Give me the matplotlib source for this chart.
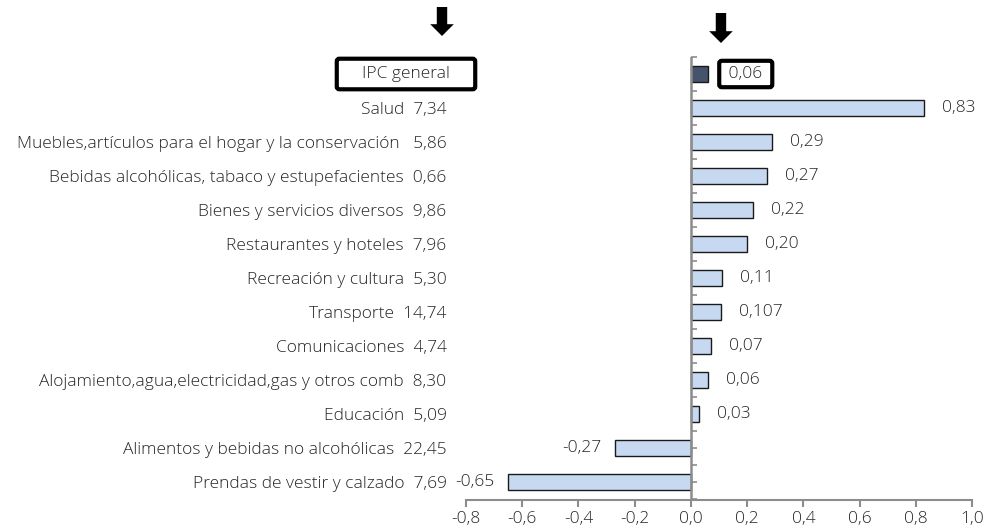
import matplotlib
matplotlib.use("Agg")
import matplotlib.pyplot as plt
import numpy as np

categories = [
    "IPC general",
    "Salud  7,34",
    "Muebles,artículos para el hogar y la conservación   5,86",
    "Bebidas alcohólicas, tabaco y estupefacientes  0,66",
    "Bienes y servicios diversos  9,86",
    "Restaurantes y hoteles  7,96",
    "Recreación y cultura  5,30",
    "Transporte  14,74",
    "Comunicaciones  4,74",
    "Alojamiento,agua,electricidad,gas y otros comb  8,30",
    "Educación  5,09",
    "Alimentos y bebidas no alcohólicas  22,45",
    "Prendas de vestir y calzado  7,69",
]
values = [0.06, 0.83, 0.29, 0.27, 0.22, 0.20, 0.11, 0.107, 0.07, 0.06, 0.03, -0.27, -0.65]
value_labels = ["0,06", "0,83", "0,29", "0,27", "0,22", "0,20", "0,11", "0,107",
                "0,07", "0,06", "0,03", "-0,27", "-0,65"]
xticks = [-0.8, -0.6, -0.4, -0.2, 0.0, 0.2, 0.4, 0.6, 0.8, 1.0]
xtick_labels = ["-0,8", "-0,6", "-0,4", "-0,2", "0,0", "0,2", "0,4", "0,6", "0,8", "1,0"]

plt.rcParams['font.family'] = ['Open Sans', 'DejaVu Sans']
plt.rcParams['font.weight'] = 'light'
FS = 12.5
txt_color = "#262626"
axis_color = "#8c8c8c"

fig = plt.figure(figsize=(9.92, 5.28), dpi=100)
ax = fig.add_axes([466/992, 1-500/528, (972-466)/992, (500-57)/528])

n = len(values)
ypos = np.arange(n)[::-1]  # top item highest
colors = ["#44546a"] + ["#c6d9f0"] * (n - 1)
ax.barh(ypos, values, height=0.47, color=colors, edgecolor="#1a1a1a", linewidth=1.0, zorder=3)

ax.set_xlim(-0.8, 1.0)
ax.set_ylim(-0.53, n - 0.5)

# x axis
ax.set_xticks(xticks)
ax.set_xticklabels(xtick_labels, fontsize=FS, color=txt_color)
ax.tick_params(axis='x', direction='out', length=5, width=1.5, color=axis_color, pad=3)
for s in ["top", "right", "left"]:
    ax.spines[s].set_visible(False)
ax.spines["bottom"].set_color(axis_color)
ax.spines["bottom"].set_linewidth(1.5)

# y tick labels (categories) on left, IPC drawn separately in a box
ax.set_yticks(ypos)
ax.set_yticklabels([""] + categories[1:], fontsize=FS, color=txt_color)
ax.tick_params(axis='y', length=0, pad=14)

# zero axis line with small tick marks
ax.axvline(0, color=axis_color, linewidth=1.8, zorder=4)
zero_frac = 0.8 / 1.8
sec = ax.secondary_yaxis(zero_frac)
sec.spines["right"].set_visible(False)
sec.spines["left"].set_visible(False)
minor = np.arange(-0.5, n, 1.0)
sec.set_yticks(list(ypos) + list(minor))
sec.set_yticklabels([])
sec.tick_params(axis='y', direction='in', length=4, width=1.2, color=axis_color)

# value labels
for y, v, lab in zip(ypos, values, value_labels):
    if y == n - 1:
        continue
    if v >= 0:
        ax.annotate(lab, (v, y), xytext=(13, 0), textcoords="offset points",
                    ha="left", va="center", fontsize=FS, color=txt_color)
    else:
        ax.annotate(lab, (v, y), xytext=(-10, 0), textcoords="offset points",
                    ha="right", va="center", fontsize=FS, color=txt_color)

# IPC general boxed texts
ax.annotate("    " + categories[0] + "    ", (0, ypos[0]), xycoords=("axes fraction", "data"),
            xytext=(-60, 0), textcoords="offset pixels", ha="center", va="center",
            fontsize=FS, color=txt_color,
            bbox=dict(boxstyle="round,pad=0.42,rounding_size=0.15", fc="white", ec="black", lw=3))
ax.annotate(" " + value_labels[0] + " ", (values[0], ypos[0]), xytext=(38, 0),
            textcoords="offset pixels", ha="center", va="center",
            fontsize=FS, color=txt_color,
            bbox=dict(boxstyle="round,pad=0.3,rounding_size=0.15", fc="white", ec="black", lw=3))

# Down arrows
arrow_style = "simple,head_length=8.5,head_width=17,tail_width=7.5"
ax.annotate("", xy=(-24/506, (500-36)/443), xycoords="axes fraction",
            xytext=(-24/506, (500-7)/443), textcoords="axes fraction",
            arrowprops=dict(arrowstyle=arrow_style, fc="black", ec="black", lw=0,
                            shrinkA=0, shrinkB=0, mutation_scale=1),
            annotation_clip=False)
ax.annotate("", xy=(0.107, (500-43)/443), xycoords=("data", "axes fraction"),
            xytext=(0.107, (500-13)/443), textcoords=("data", "axes fraction"),
            arrowprops=dict(arrowstyle=arrow_style, fc="black", ec="black", lw=0,
                            shrinkA=0, shrinkB=0, mutation_scale=1),
            annotation_clip=False)

fig.savefig("out.png", dpi=100)
